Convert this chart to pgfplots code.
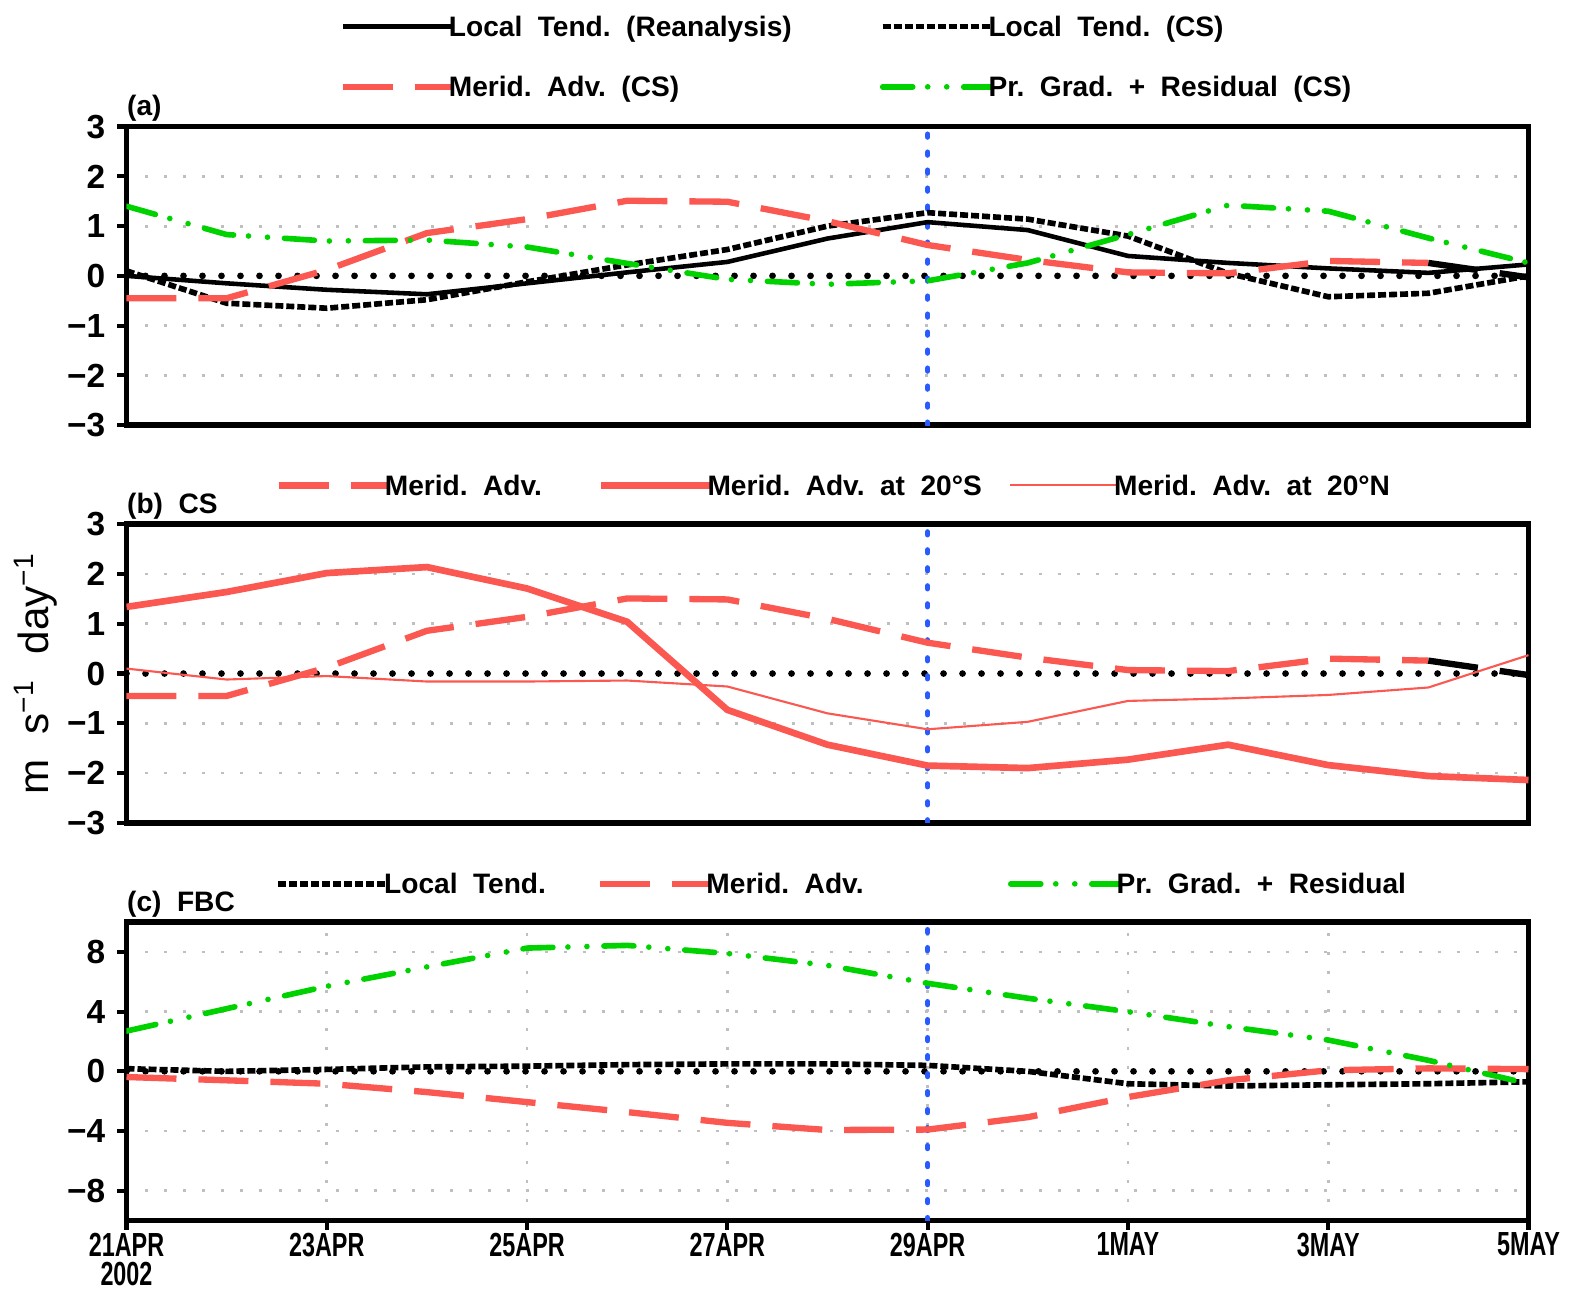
\documentclass[border=0pt]{standalone}
\usepackage{pgfplots}
\pgfplotsset{compat=1.18}
\usepackage{pgfplotstable}
\usepackage{fontspec}
\setmainfont{Liberation Sans}
\newfontfamily\ticklabfont[FakeStretch=0.7]{Liberation Sans}
\definecolor{advred}{RGB}{250,88,80}
\definecolor{pgreen}{RGB}{0,210,0}
\definecolor{vblue}{RGB}{40,90,255}
\newcommand\legfont{\fontsize{8}{9.6}\selectfont\bfseries}
\newcommand\tlfont{\fontsize{9.5}{11}\selectfont\bfseries}
\newcommand\w{\hspace{0.55em}}
\newcommand\E[2]{\hspace*{-0.06cm}\makebox[#1][l]{#2}}
\newcommand\F[1]{\hspace*{-0.06cm}#1}

\pgfplotstableread{
d ltr ltcs ma pg
0 0.00 0.10 -0.45 1.40
1 -0.15 -0.55 -0.45 0.83
2 -0.28 -0.65 0.12 0.70
3 -0.37 -0.48 0.86 0.72
4 -0.15 -0.12 1.14 0.58
5 0.07 0.22 1.51 0.25
6 0.28 0.53 1.49 -0.07
7 0.75 1.00 1.10 -0.17
8 1.08 1.27 0.62 -0.10
9 0.92 1.14 0.32 0.26
10 0.40 0.80 0.07 0.83
11 0.26 0.05 0.05 1.42
12 0.15 -0.42 0.30 1.30
13 0.06 -0.35 0.26 0.76
14 0.23 0.00 -0.03 0.26
}\tabA

\pgfplotstableread{
d ma s20 n20
0 -0.45 1.34 0.10
1 -0.45 1.64 -0.12
2 0.12 2.02 -0.05
3 0.86 2.14 -0.16
4 1.14 1.71 -0.16
5 1.51 1.04 -0.14
6 1.49 -0.73 -0.26
7 1.10 -1.43 -0.80
8 0.62 -1.85 -1.12
9 0.32 -1.90 -0.97
10 0.07 -1.73 -0.55
11 0.05 -1.43 -0.50
12 0.30 -1.84 -0.43
13 0.26 -2.06 -0.28
14 -0.03 -2.14 0.37
}\tabB

\pgfplotstableread{
d lt ma pg
0 0.18 -0.38 2.70
1 0.00 -0.60 4.20
2 0.13 -0.83 5.70
3 0.30 -1.39 7.00
4 0.35 -2.06 8.26
5 0.45 -2.73 8.44
6 0.50 -3.45 7.90
7 0.50 -3.93 7.10
8 0.40 -3.90 5.90
9 0.00 -3.07 4.90
10 -0.83 -1.72 4.00
11 -0.98 -0.60 3.00
12 -0.90 0.07 2.10
13 -0.83 0.20 0.74
14 -0.70 0.15 -0.83
}\tabC

\pgfplotsset{
  panel/.style={
    scale only axis, width=14.02cm, height=2.985cm,
    xmin=0, xmax=14, anchor=north west, clip mode=individual,
    axis line style={line width=1.6pt},
    tick align=outside, major tick length=0.09cm,
    tick style={black, line width=1.2pt},
    ytick pos=left, xtick pos=bottom,
    ymajorgrids,
    grid style={gray!50, line width=0.8pt, dash pattern=on 0.03cm off 0.16cm},
    tick label style={font=\tlfont},
    legend style={draw=none, fill=none, inner sep=0pt, outer sep=0pt,
      nodes={inner sep=0pt}, font=\legfont, cells={anchor=base west}},
  },
  ltr/.style={black, line width=1.3pt},
  ltcs/.style={black, line width=1.6pt, dash pattern=on 0.08cm off 0.03cm},
  madv/.style={advred, line width=1.8pt, dash pattern=on 0.5cm off 0.22cm},
  pgr/.style={pgreen, line width=1.6pt, line cap=round, dash pattern=on 0.3cm off 0.15cm on 0cm off 0.19cm on 0cm off 0.17cm},
  zero/.style={black, line width=1.9pt, line cap=round, dash pattern=on 0cm off 0.19cm},
  vline/.style={vblue, line width=1.5pt, line cap=round, dash pattern=on 0.03cm off 0.15cm},
}
\pgfplotsset{legend image code/.code={\draw[#1] (0cm,0.1cm) -- (1.09cm,0.1cm);}}

\begin{document}
\begin{tikzpicture}
\useasboundingbox (0,0) rectangle (15.75,-12.9);

% ---------------- panel (a)
\begin{axis}[panel, at={(1.265cm,-1.266cm)},
  ymin=-3, ymax=3, ytick={-3,-2,-1,0,1,2,3},
  yticklabels={−3,−2,−1,0,1,2,3}, xtick=\empty,
  legend columns=2,
  legend style={at={(0.152,1.226)}, anchor=west}]
\addplot[zero, forget plot] coordinates {(0,0) (14,0)};
\addplot[vline, forget plot] coordinates {(8,-3) (8,3)};
\addplot[ltr] table[x=d, y=ltr] {\tabA};
\addlegendentry{\E{4.31cm}{Local\w Tend.\w (Reanalysis)}}
\addplot[ltcs] table[x=d, y=ltcs] {\tabA};
\addlegendentry{\F{Local\w Tend.\w (CS)}}
\addplot[madv, restrict x to domain=0:13] table[x=d, y=ma] {\tabA};
\addlegendentry{\E{4.31cm}{\rule{0pt}{0.55cm}Merid.\w Adv.\w (CS)}}
\addplot[pgr] table[x=d, y=pg] {\tabA};
\addlegendentry{\F{\rule{0pt}{0.55cm}Pr.\w Grad.\w +\w Residual\w (CS)}}
\addplot[madv, black, forget plot, restrict x to domain=13:14] table[x=d, y=ma] {\tabA};
\node[anchor=base west, font=\legfont, inner sep=0pt] at (rel axis cs:0,1.037) {(a)};
\end{axis}

% ---------------- panel (b)
\begin{axis}[panel, at={(1.265cm,-5.243cm)},
  ymin=-3, ymax=3, ytick={-3,-2,-1,0,1,2,3},
  yticklabels={−3,−2,−1,0,1,2,3}, xtick=\empty,
  ylabel={m\hspace{0.6em}s\textsuperscript{−1}\hspace{0.6em}day\textsuperscript{−1}},
  ylabel style={font=\fontsize{12}{14}\selectfont, at={(-0.065,0.5)}, anchor=center},
  legend columns=3,
  legend style={at={(0.1063,1.122)}, anchor=west}]
\addplot[zero, forget plot] coordinates {(0,0) (14,0)};
\addplot[vline, forget plot] coordinates {(8,-3) (8,3)};
\addplot[madv, restrict x to domain=0:13] table[x=d, y=ma] {\tabB};
\addlegendentry{\E{2.13cm}{Merid.\w Adv.}}
\addplot[advred, line width=1.9pt] table[x=d, y=s20] {\tabB};
\addlegendentry{\E{3.015cm}{Merid.\w Adv.\w at\w 20°S}}
\addplot[advred, line width=0.6pt] table[x=d, y=n20] {\tabB};
\addlegendentry{\F{Merid.\w Adv.\w at\w 20°N}}
\addplot[madv, black, forget plot, restrict x to domain=13:14] table[x=d, y=ma] {\tabB};
\node[anchor=base west, font=\legfont, inner sep=0pt] at (rel axis cs:0,1.037) {(b)\w CS};
\end{axis}

% ---------------- panel (c)
\begin{axis}[panel, at={(1.265cm,-9.221cm)},
  ymin=-10, ymax=10, ytick={-8,-4,0,4,8},
  yticklabels={−8,−4,0,4,8},
  xmajorgrids, xtick={0,2,...,14},
  xticklabels={{21APR\\2002},23APR,25APR,27APR,29APR,1MAY,3MAY,5MAY},
  xticklabel style={align=center, yshift=0.09cm, font=\fontsize{9.5}{8.3}\selectfont\ticklabfont\bfseries},
  legend columns=3,
  legend style={at={(0.1063,1.12)}, anchor=west}]
\addplot[zero, forget plot] coordinates {(0,0) (14,0)};
\addplot[vline, forget plot] coordinates {(8,-10) (8,10)};
\addplot[ltcs] table[x=d, y=lt] {\tabC};
\addlegendentry{\E{2.13cm}{Local\w Tend.}}
\addplot[madv] table[x=d, y=ma] {\tabC};
\addlegendentry{\E{3.015cm}{Merid.\w Adv.}}
\addplot[pgr] table[x=d, y=pg] {\tabC};
\addlegendentry{\F{Pr.\w Grad.\w +\w Residual}}
\node[anchor=base west, font=\legfont, inner sep=0pt] at (rel axis cs:0,1.037) {(c)\w FBC};
\end{axis}
\end{tikzpicture}
\end{document}
